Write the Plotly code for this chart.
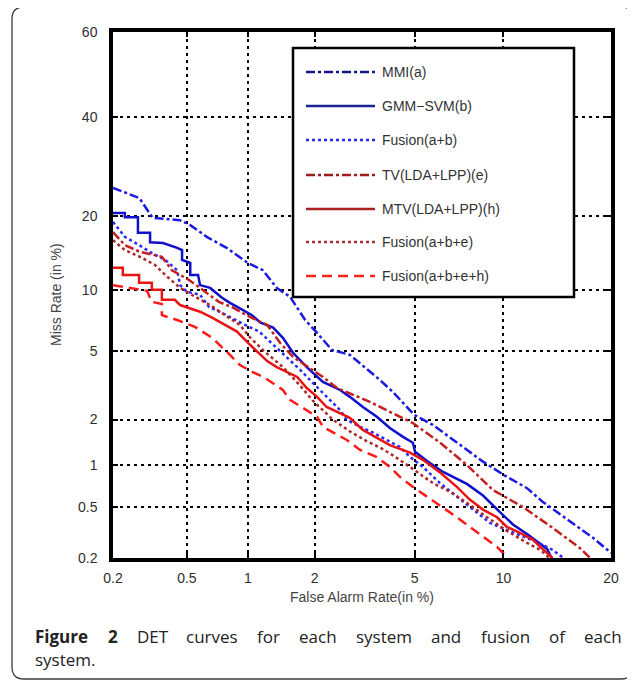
import plotly.graph_objects as go
from statistics import NormalDist

_nd = NormalDist()


def probit(pct):
    return _nd.inv_cdf(pct / 100.0)


# ---------------- data (percent) ----------------
x_ticks = [0.2, 0.5, 1, 2, 5, 10, 20]
x_tick_labels = ["0.2", "0.5", "1", "2", "5", "10", "20"]
y_ticks = [0.2, 0.5, 1, 2, 5, 10, 20, 40, 60]
y_tick_labels = ["0.2", "0.5", "1", "2", "5", "10", "20", "40", "60"]

series_names = ["MMI(a)", "GMM\u2212SVM(b)", "Fusion(a+b)", "TV(LDA+LPP)(e)",
                "MTV(LDA+LPP)(h)", "Fusion(a+b+e)", "Fusion(a+b+e+h)"]

mmi_far = [0.20, 0.28, 0.33, 0.46, 0.52, 0.63, 0.79, 1.0, 1.175, 1.36, 1.56, 1.82, 2.05, 2.37,
           2.81, 3.23, 3.70, 4.15, 4.98, 5.82, 6.68, 7.62, 8.61, 10.0, 11.8, 13.1, 14.7, 16.6,
           18.0, 20.0]
mmi_miss = [25.0, 23.1, 19.7, 19.3, 18.5, 16.7, 15.1, 13.1, 12.2, 10.2, 9.3, 7.2, 6.2, 5.05,
            4.76, 4.08, 3.45, 2.94, 2.14, 1.85, 1.53, 1.27, 1.06, 0.86, 0.69, 0.55, 0.44, 0.348,
            0.291, 0.22]

gmm_far = [0.20, 0.233, 0.233, 0.275, 0.275, 0.32, 0.32, 0.375, 0.445, 0.472, 0.472, 0.52, 0.52,
           0.57, 0.583, 0.655, 0.75, 0.82, 0.916, 1.045, 1.14, 1.31, 1.45, 1.61, 1.85, 2.17, 2.56,
           2.81, 3.17, 3.60, 4.04, 4.53, 4.93, 5.02, 5.55, 6.32, 7.62, 8.61, 9.75, 10.7, 11.8,
           12.6, 13.5, 13.9]
gmm_miss = [20.5, 20.5, 19.8, 19.8, 17.3, 17.3, 15.9, 15.8, 15.1, 14.8, 13.5, 13.1, 11.65,
            11.65, 10.5, 10.2, 9.2, 8.7, 8.2, 7.6, 7.0, 6.6, 5.85, 4.88, 4.08, 3.36, 3.02, 2.75,
            2.39, 2.08, 1.77, 1.55, 1.42, 1.235, 1.07, 0.90, 0.74, 0.61, 0.46, 0.37, 0.312, 0.275,
            0.237, 0.20]

fab_far = [0.20, 0.233, 0.279, 0.327, 0.385, 0.445, 0.461, 0.50, 0.583, 0.648, 0.75, 0.868,
           0.97, 1.13, 1.31, 1.51, 1.73, 1.91, 2.11, 2.32, 2.56, 2.73, 3.09, 3.48, 3.94, 4.41,
           4.81, 5.36, 6.17, 7.05, 7.99, 9.06, 10.25, 11.5, 12.6, 14.0, 15.0]
fab_miss = [19.0, 16.7, 15.5, 14.4, 13.5, 12.2, 10.5, 9.8, 9.5, 8.3, 7.8, 7.2, 6.8, 6.3, 5.4,
            4.58, 3.94, 3.45, 3.02, 2.64, 2.29, 1.99, 1.80, 1.65, 1.48, 1.33, 1.14, 0.975, 0.75,
            0.60, 0.48, 0.38, 0.335, 0.296, 0.27, 0.233, 0.20]

tv_far = [0.20, 0.233, 0.279, 0.37, 0.418, 0.51, 0.60, 0.724, 0.84, 1.02, 1.23, 1.41, 1.61,
          1.91, 2.17, 2.49, 2.89, 3.38, 4.04, 4.93, 6.17, 7.62, 9.26, 11.5, 14.0, 16.6, 17.7]
tv_miss = [17.4, 15.5, 14.6, 13.9, 12.2, 11.1, 10.0, 8.8, 8.3, 7.45, 6.8, 5.5, 4.64, 4.03, 3.59,
           3.10, 2.82, 2.57, 2.23, 1.90, 1.42, 1.005, 0.67, 0.50, 0.348, 0.242, 0.20]

mtv_far = [0.20, 0.227, 0.227, 0.279, 0.279, 0.327, 0.327, 0.37, 0.37, 0.433, 0.461, 0.519,
           0.583, 0.67, 0.776, 0.887, 1.02, 1.16, 1.23, 1.36, 1.51, 1.68, 1.85, 2.05, 2.25, 2.49,
           2.81, 3.17, 3.60, 4.04, 4.81, 5.36, 6.17, 7.05, 7.79, 8.61, 9.55, 10.25, 11.24, 12.3,
           12.9, 14.0]
mtv_miss = [12.5, 12.5, 11.65, 11.65, 10.75, 10.75, 10.0, 10.0, 9.0, 9.0, 8.5, 8.2, 7.9, 7.4,
            6.8, 6.3, 5.4, 4.7, 4.4, 4.08, 3.84, 3.59, 3.10, 2.75, 2.39, 2.23, 2.05, 1.72, 1.53,
            1.37, 1.22, 1.09, 0.89, 0.705, 0.57, 0.48, 0.42, 0.354, 0.318, 0.28, 0.246, 0.20]

fabe_far = [0.20, 0.233, 0.282, 0.34, 0.385, 0.461, 0.55, 0.655, 0.776, 0.916, 1.02, 1.175,
            1.45, 1.73, 1.97, 2.39, 2.81, 3.29, 3.70, 4.15, 4.98, 5.82, 6.68, 7.62, 8.87, 10.25,
            11.8, 12.9, 13.7]
fabe_miss = [16.2, 14.8, 13.9, 12.85, 11.65, 10.2, 9.3, 8.5, 7.6, 6.8, 5.9, 5.05, 4.08, 3.2,
             2.6, 2.0, 1.68, 1.45, 1.32, 1.17, 0.93, 0.75, 0.65, 0.54, 0.42, 0.33, 0.265, 0.233,
             0.20]

fabeh_far = [0.20, 0.249, 0.308, 0.327, 0.37, 0.37, 0.445, 0.55, 0.67, 0.82, 0.916, 1.045, 1.20,
             1.45, 1.56, 1.78, 2.05, 2.17, 2.49, 2.73, 3.09, 3.60, 4.04, 4.41, 4.93, 5.55, 6.32,
             7.05, 7.79, 8.61, 9.55, 9.96, 10.25]
fabeh_miss = [10.5, 10.2, 9.9, 8.8, 8.6, 7.6, 7.2, 6.65, 5.85, 4.76, 4.19, 3.84, 3.55, 3.02,
              2.64, 2.36, 2.08, 1.80, 1.60, 1.48, 1.27, 1.14, 0.975, 0.83, 0.705, 0.60, 0.50,
              0.42, 0.354, 0.296, 0.246, 0.22, 0.20]

series_far = [mmi_far, gmm_far, fab_far, tv_far, mtv_far, fabe_far, fabeh_far]
series_miss = [mmi_miss, gmm_miss, fab_miss, tv_miss, mtv_miss, fabe_miss, fabeh_miss]

# ---------------- styles ----------------
colors = ["#1a1ae0", "#1010cc", "#2a2aff", "#c41e1e", "#e81414", "#b02626", "#ff1a1a"]
legend_colors = ["#14148c", "#1a2496", "#2626e6", "#a01c1c", "#a82020", "#a83030", "#ff2020"]
dashes = ["dashdot", "solid", "dot", "dashdot", "solid", "dot", "10px,6px"]
LW = 2.5

fig = go.Figure()
for name, far, miss, col, dsh in zip(series_names, series_far, series_miss, colors, dashes):
    fig.add_trace(go.Scatter(
        x=[probit(v) for v in far], y=[probit(v) for v in miss],
        mode="lines", name=name, showlegend=False,
        line=dict(color=col, width=LW, dash=dsh)))

# page has an 8px body margin: the figure is drawn at (8, 8) in the window
PAGE_OFF = 8
WIN_W, WIN_H = 635, 681
# plot area in window pixels
L, R, T, B = 113, 611, 32, 558


def fx(px):
    return (px - L) / (R - L)


def fy(py):
    return (B - py) / (B - T)


axis_common = dict(
    showgrid=True, gridcolor="black", gridwidth=2, griddash="3px,4px",
    showline=True, linecolor="black", linewidth=3.5, mirror="ticks",
    ticks="inside", ticklen=5, tickwidth=2, tickcolor="black",
    tickfont=dict(family="Liberation Sans, Arial, sans-serif", size=14, color="#2e2e2e"),
    zeroline=False, fixedrange=True,
)

fig.update_layout(
    width=WIN_W - PAGE_OFF, height=WIN_H - PAGE_OFF,
    margin=dict(l=L - PAGE_OFF, r=WIN_W - R, t=T - PAGE_OFF, b=WIN_H - B),
    paper_bgcolor="white", plot_bgcolor="white",
    showlegend=False,
    xaxis=dict(range=[probit(0.2), probit(20)],
               tickvals=[probit(v) for v in x_ticks], ticktext=x_tick_labels,
               ticklabelstandoff=4, **axis_common),
    yaxis=dict(range=[probit(0.2), probit(60)],
               tickvals=[probit(v) for v in y_ticks], ticktext=y_tick_labels,
               ticklabelstandoff=9, **axis_common),
)

shapes = []
annotations = []

# outer rounded frame
x0, x1 = fx(12), fx(633)
y0, y1 = fy(679), fy(7)
rx, ry = 12 / (R - L), 12 / (B - T)
path = (f"M {x0+rx},{y1} L {x1-rx},{y1} Q {x1},{y1} {x1},{y1-ry} "
        f"L {x1},{y0+ry} Q {x1},{y0} {x1-rx},{y0} L {x0+rx},{y0} "
        f"Q {x0},{y0} {x0},{y0+ry} L {x0},{y1-ry} Q {x0},{y1} {x0+rx},{y1} Z")
shapes.append(dict(type="path", xref="paper", yref="paper", path=path,
                   line=dict(color="#3a3a3a", width=1.3), layer="above"))

# legend box
shapes.append(dict(type="rect", xref="paper", yref="paper",
                   x0=fx(293), x1=fx(574), y0=fy(297), y1=fy(48),
                   fillcolor="white", line=dict(color="black", width=2.5), layer="above"))
legend_y = [72, 106, 140, 175, 209, 242, 276]
for name, col, dsh, ly in zip(series_names, legend_colors, dashes, legend_y):
    shapes.append(dict(type="line", xref="paper", yref="paper",
                       x0=fx(306), x1=fx(375), y0=fy(ly), y1=fy(ly),
                       line=dict(color=col, width=LW, dash=dsh), layer="above"))
    annotations.append(dict(xref="paper", yref="paper", x=fx(380), y=fy(ly),
                            xanchor="left", yanchor="middle", showarrow=False, text=name,
                            font=dict(family="Liberation Sans, Arial, sans-serif", size=14,
                                      color="#333333")))

# axis titles
annotations.append(dict(xref="paper", yref="paper", x=fx(362), y=fy(597),
                        xanchor="center", yanchor="middle", showarrow=False,
                        text="False Alarm Rate(in %)",
                        font=dict(family="Liberation Sans, Arial, sans-serif", size=14,
                                  color="#444444")))
annotations.append(dict(xref="paper", yref="paper", x=fx(56), y=fy(295),
                        xanchor="center", yanchor="middle", showarrow=False, textangle=-90,
                        text="Miss Rate (in %)",
                        font=dict(family="Liberation Sans, Arial, sans-serif", size=14,
                                  color="#444444")))

# caption (justified first line)
cap_words = ["Figure", "2", "DET", "curves", "for", "each", "system", "and", "fusion", "of", "each"]
cap_bold = [True, True] + [False] * 9
W_REG = {'a': 0.556, 'c': 0.476, 'd': 0.613, 'e': 0.561, 'f': 0.339, 'h': 0.614, 'i': 0.253,
         'm': 0.930, 'n': 0.614, 'o': 0.604, 'r': 0.408, 's': 0.477, 't': 0.353, 'u': 0.614,
         'v': 0.501, 'y': 0.501, 'D': 0.708, 'E': 0.549, 'T': 0.539, '.': 0.266}
W_BOLD = {'F': 0.590, 'i': 0.297, 'g': 0.569, 'u': 0.668, 'r': 0.451, 'e': 0.578, '2': 0.572}
CAP_FS = 17
widths = []
for w, b in zip(cap_words, cap_bold):
    tbl = W_BOLD if b else W_REG
    widths.append(sum(tbl.get(c, 0.55) for c in w) * CAP_FS)
left_px, right_px = 33, 620
gap = (right_px - left_px - sum(widths)) / (len(cap_words) - 1)
pos = left_px
for w, b, wd in zip(cap_words, cap_bold, widths):
    annotations.append(dict(xref="paper", yref="paper", x=fx(pos), y=fy(636),
                            xanchor="left", yanchor="middle", showarrow=False,
                            text=f"<b>{w}</b>" if b else w,
                            font=dict(family="Open Sans, sans-serif", size=CAP_FS,
                                      color="#222222")))
    pos += wd + gap
annotations.append(dict(xref="paper", yref="paper", x=fx(33), y=fy(659),
                        xanchor="left", yanchor="middle", showarrow=False, text="system.",
                        font=dict(family="Open Sans, sans-serif", size=CAP_FS,
                                  color="#222222")))

fig.update_layout(shapes=shapes, annotations=annotations)
fig.write_html("out.html")
